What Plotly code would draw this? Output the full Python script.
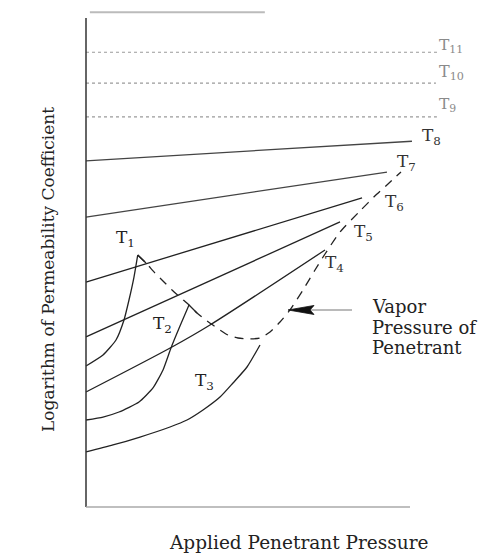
import plotly.graph_objects as go

# ---------------- data (arbitrary units: applied pressure vs log permeability) ----------------
# horizontal isotherms above the critical region (dotted)
t11_x = [0.0, 10.86]
t11_y = [9.30, 9.30]
t10_x = [0.0, 10.80]
t10_y = [8.67, 8.67]
t9_x = [0.0, 10.83]
t9_y = [7.98, 7.98]

# straight isotherms
t8_x = [0.0, 10.06]
t8_y = [7.08, 7.48]
t7_x = [0.0, 9.29]
t7_y = [5.93, 6.85]
t6_x = [0.0, 8.52]
t6_y = [4.60, 6.32]
t5_x = [0.0, 7.84]
t5_y = [3.48, 5.83]
t4_x = [0.0, 2.654, 3.827, 7.377]
t4_y = [2.352, 3.272, 3.722, 5.256]

# curved isotherms (low temperature); last point = short turn-over past the peak
t1_x = [0.0, 0.525, 0.926, 1.173, 1.327, 1.481, 1.596, 1.852]
t1_y = [2.883, 3.108, 3.415, 3.824, 4.233, 4.703, 5.153, 4.990]
t2_x = [0.0, 0.525, 1.019, 1.636, 2.068, 2.377, 2.623, 2.901, 3.179, 3.426]
t2_y = [1.779, 1.840, 1.943, 2.147, 2.434, 2.802, 3.252, 3.701, 4.131, 3.967]
t3_x = [0.0, 0.833, 1.667, 2.593, 3.117, 3.611, 4.136, 4.537, 4.969, 5.370]
t3_y = [1.125, 1.268, 1.431, 1.636, 1.779, 1.984, 2.249, 2.536, 2.863, 3.313]

# vapor pressure of penetrant (dashed)
vp_x = [1.596, 1.852, 2.130, 2.407, 2.654, 2.932, 3.179, 3.426, 3.735, 4.043, 4.383,
        4.691, 5.000, 5.370, 5.679, 5.988, 6.296, 6.698, 7.068, 7.377, 7.840, 8.457,
        8.981, 9.321, 9.722]
vp_y = [5.153, 4.990, 4.785, 4.601, 4.438, 4.274, 4.131, 3.967, 3.804, 3.661, 3.517,
        3.456, 3.436, 3.456, 3.579, 3.783, 4.029, 4.438, 4.847, 5.174, 5.624, 6.053,
        6.401, 6.605, 6.851]

# texts
label_names = ["T<sub>11</sub>", "T<sub>10</sub>", "T<sub>9</sub>", "T<sub>8</sub>",
               "T<sub>7</sub>", "T<sub>6</sub>", "T<sub>5</sub>", "T<sub>4</sub>",
               "T<sub>1</sub>", "T<sub>2</sub>", "T<sub>3</sub>"]
x_title = "Applied Penetrant Pressure"
y_title = "Logarithm of Permeability Coefficient"
vp_lines = ["Vapor", "Pressure of", "Penetrant"]

# ---------------- layout positions / styles ----------------
label_pos = [(10.82, 9.42), (10.82, 8.88), (10.82, 8.22), (10.31, 7.57),
             (9.54, 7.04), (9.17, 6.22), (8.21, 5.62), (7.32, 4.97),
             (0.86, 5.50), (2.00, 3.74), (3.30, 2.56)]
label_col = ["#8a8a8a", "#8a8a8a", "#8a8a8a", "#333", "#333", "#333", "#333", "#333",
             "#222", "#222", "#222"]
label_size = [15.5, 16, 15.5, 17, 17, 17, 17, 17, 17, 17, 17]
vp_text_pos = [(8.765, 4.110), (8.765, 3.661), (8.765, 3.252)]
arrow_tip = (6.235, 4.029)
arrow_tail = (8.21, 4.029)

FONT = "DejaVu Serif"
INK = "#222"
fig = go.Figure()


def add_line(x, y, color, width=1.3, dash="solid", smooth=0.0):
    fig.add_trace(go.Scatter(x=x, y=y, mode="lines", hoverinfo="skip",
                             line=dict(color=color, width=width, dash=dash,
                                       shape="spline" if smooth else "linear",
                                       smoothing=smooth if smooth else None)))


for x, y in [(t11_x, t11_y), (t10_x, t10_y), (t9_x, t9_y)]:
    add_line(x, y, "#9a9a9a", 1.2, "dot")
add_line(t8_x, t8_y, "#444")
add_line(t7_x, t7_y, "#444")
add_line(t6_x, t6_y, INK)
add_line(t5_x, t5_y, INK)
add_line(t4_x, t4_y, INK, smooth=0.8)
for x, y in [(t1_x, t1_y), (t2_x, t2_y)]:
    add_line(x[:-1], y[:-1], INK, smooth=0.5)
    add_line(x[-2:], y[-2:], INK)
add_line(t3_x, t3_y, INK, smooth=0.6)
add_line(vp_x, vp_y, INK, 1.3, "9px,7px", smooth=0.6)

annotations = []
for name, (lx, ly), c, s in zip(label_names, label_pos, label_col, label_size):
    annotations.append(dict(x=lx, y=ly, xref="x", yref="y", text=name, showarrow=False,
                            xanchor="left", yanchor="middle",
                            font=dict(family=FONT, size=s, color=c)))

for line, (tx, ty) in zip(vp_lines, vp_text_pos):
    annotations.append(dict(x=tx, y=ty, xref="x", yref="y", text=line, showarrow=False,
                            xanchor="left", yanchor="middle", align="left",
                            font=dict(family=FONT, size=18, color=INK)))
annotations.append(dict(x=0.530, y=-0.0552, xref="paper", yref="paper", text=x_title,
                        showarrow=False, xanchor="center", yanchor="middle",
                        font=dict(family=FONT, size=18.5, color=INK)))
annotations.append(dict(x=-0.0509, y=0.4832, xref="paper", yref="paper", text=y_title,
                        showarrow=False, textangle=-90, xanchor="center", yanchor="middle",
                        font=dict(family=FONT, size=17, color=INK)))

shapes = [
    # axes
    dict(type="line", xref="x", yref="y", x0=0, x1=0, y0=0, y1=10.0,
         line=dict(color="#333", width=1.5)),
    dict(type="line", xref="x", yref="y", x0=0, x1=10.0, y0=0, y1=0,
         line=dict(color="#aaa", width=1.3)),
    # faint top rule of the scanned figure
    dict(type="line", xref="x", yref="y", x0=0.12, x1=5.52, y0=10.12, y1=10.12,
         line=dict(color="#bbb", width=2)),
    # arrow shaft
    dict(type="line", xref="x", yref="y", x0=arrow_tip[0] + 0.5, x1=arrow_tail[0],
         y0=arrow_tip[1], y1=arrow_tail[1], line=dict(color="#777", width=1.1)),
    # slender filled arrow head
    dict(type="path", xref="x", yref="y", xsizemode="pixel", ysizemode="pixel",
         xanchor=arrow_tip[0], yanchor=arrow_tip[1],
         path="M0,0 L26,4.5 L22,0 L26,-4.5 Z",
         fillcolor="#111", line=dict(color="#111", width=0.8)),
]

fig.update_layout(
    width=494, height=554,
    margin=dict(l=62, r=0, t=0, b=47),
    paper_bgcolor="white", plot_bgcolor="white",
    showlegend=False,
    xaxis=dict(range=[-0.4938, 12.8395], visible=False, fixedrange=True),
    yaxis=dict(range=[-0.1636, 10.2045], visible=False, fixedrange=True),
    annotations=annotations,
    shapes=shapes,
)

fig.write_html("out.html")
